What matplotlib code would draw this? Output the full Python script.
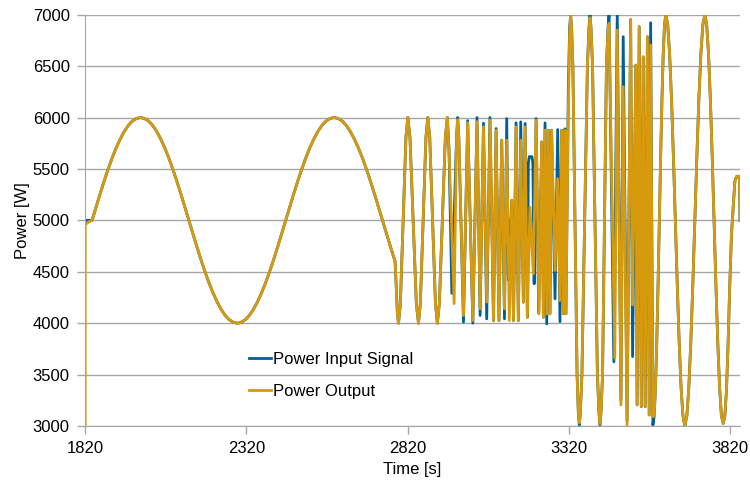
import matplotlib.pyplot as plt

# steady sine part, shared by both series (t in s, P in W), read every 12.5 s
sine_t = [1842 + 12.5 * k for k in range(76)] + [2781]
sine_v = [5000, 5131, 5259, 5383, 5500, 5609, 5707, 5793, 5866, 5924, 5966, 5991,
          6000, 5991, 5966, 5924, 5866, 5793, 5707, 5609, 5500, 5383, 5259, 5131,
          5000, 4869, 4741, 4617, 4500, 4391, 4293, 4207, 4134, 4076, 4034, 4009,
          4000, 4009, 4034, 4076, 4134, 4207, 4293, 4391, 4500, 4617, 4741, 4869,
          5000, 5131, 5259, 5383, 5500, 5609, 5707, 5793, 5866, 5924, 5966, 5991,
          6000, 5991, 5966, 5924, 5866, 5793, 5707, 5609, 5500, 5383, 5259, 5131,
          5000, 4869, 4741, 4617, 4600]

# first chirp cycles, shared
chirp_t = [2784, 2788, 2791.6, 2797.4, 2806, 2814.7, 2820.5, 2827.1, 2837, 2846.9,
           2853.5, 2859.3, 2868, 2876.7, 2882.5, 2888.4, 2897.2, 2906.1, 2912,
           2918.2, 2927.5, 2936.8, 2943, 2948]
chirp_v = [4400, 4100, 4000, 4190, 5000, 5810, 6000, 5810, 5000, 4190,
           4000, 4190, 5000, 5810, 6000, 5810, 5000, 4190, 4000,
           4190, 5000, 5810, 6000, 5700]

# fast part, input signal
in_fast_t = [2957, 2971.5, 2975, 2978.5, 2993, 3006, 3022, 3035, 3044.5, 3055, 3065,
             3075, 3086, 3094, 3103, 3111.5, 3120, 3127, 3132, 3142.5, 3148, 3156,
             3163, 3170.4, 3178.6, 3184, 3191, 3194, 3197, 3205, 3208, 3212, 3218,
             3226, 3235.4, 3240.6, 3245.7, 3251, 3256, 3261, 3266, 3276.7, 3285,
             3292, 3297, 3302.5, 3307.5, 3310.5]
in_fast_v = [4290, 5810, 6000, 5810, 4010, 5970, 4000, 6000, 4075, 5945, 4042,
             6000, 4026, 5893, 4026, 5780, 4042, 5990, 4420, 5195, 4026, 5948,
             4026, 5958, 4204, 5942, 4058, 5560, 5620, 5620, 5560, 4383, 5990,
             4100, 5763, 4058, 5948, 3993, 5877, 4091, 5877, 4237, 5883,
             4015, 5877, 4091, 5890, 4091]

# fast part, output
out_fast_t = [2964, 2971.5, 2975, 2978.5, 2993, 3006, 3022, 3035, 3044.5, 3055, 3065,
              3075.5, 3086, 3094, 3103, 3111.5, 3120, 3127, 3135, 3142.5, 3148, 3156,
              3163, 3170.4, 3178.6, 3184, 3191, 3199, 3209.6, 3218, 3227, 3235.4,
              3240.6, 3245.7, 3251, 3256, 3261, 3266, 3276.7, 3285, 3292, 3297,
              3302.5, 3307.5, 3310.5]
out_fast_v = [4190, 5810, 5980, 5810, 4075, 5950, 4026, 5960, 4140, 5910, 4205,
              5975, 4026, 5877, 4026, 5780, 4140, 5780, 4026, 5195, 4026, 5909,
              4026, 5780, 4204, 5909, 4058, 5130, 4480, 5974, 4091, 5763,
              4058, 5877, 4091, 5877, 4091, 5877, 4513, 5406, 4221, 5877,
              4091, 5877, 4091]

# wide swings 3000..7000, input signal
in_wide_t = [3318, 3322, 3325, 3328, 3332, 3338.5, 3345, 3349, 3352, 3355, 3360,
             3368.5, 3377, 3382, 3385, 3388, 3393, 3400.5, 3408, 3413, 3416, 3419,
             3424, 3430, 3436, 3441, 3444, 3459, 3469.5, 3481, 3488, 3500, 3511,
             3517, 3527, 3531, 3537.6, 3544, 3550, 3556, 3563, 3568.6, 3573, 3580]
in_wide_v = [6300, 6880, 7000, 6880, 6500, 5000, 3500, 3120, 3010, 3120, 3500,
             5000, 6500, 6880, 7000, 6880, 6500, 5000, 3500, 3120, 3010, 3120,
             3500, 5000, 6500, 6880, 7000, 3625, 7000, 3250, 6786, 3050, 6950,
             3675, 6510, 3205, 6883, 3188, 6590, 3188, 6786, 3107, 6922, 3010]

# wide swings, output
out_wide_t = [3318, 3322, 3325, 3328, 3332, 3338.5, 3345, 3349, 3352, 3355, 3360,
              3368.5, 3377, 3382, 3385, 3388, 3393, 3400.5, 3408, 3413, 3416, 3419,
              3424, 3430, 3436, 3441, 3444, 3462, 3469.5, 3481, 3488, 3500, 3511,
              3517, 3527, 3531, 3537.6, 3544, 3550, 3556, 3563, 3568.6, 3573, 3580]
out_wide_v = [6100, 6800, 6990, 6880, 6500, 5000, 3500, 3130, 3030, 3120, 3500,
              5000, 6500, 6860, 6970, 6880, 6500, 5000, 3500, 3130, 3020, 3120,
              3500, 5000, 6500, 6850, 6916, 3660, 6850, 3205, 6300, 3010, 6955,
              4177, 6510, 3205, 6883, 3188, 6590, 3188, 6786, 3107, 6705, 3090]

# last slow swings, shared
tail_t = [3584, 3588, 3592, 3596, 3600, 3604, 3608, 3612, 3616, 3620,
          3625.9, 3631.8, 3637.7, 3643.6, 3649.5, 3655.4, 3661.3, 3667.2, 3673.1, 3679,
          3685.2, 3691.4, 3697.6, 3703.8, 3710, 3716.2, 3722.4, 3728.6, 3734.8, 3741,
          3746.7, 3752.4, 3758.1, 3763.8, 3769.5, 3775.2, 3780.9, 3786.6, 3792.3, 3798,
          3803, 3808, 3813, 3818, 3823.6, 3829, 3834, 3839, 3845, 3848, 3850]
tail_v = [3098, 3382, 3824, 4382, 5000, 5618, 6176, 6618, 6902, 7000,
          6902, 6618, 6176, 5618, 5000, 4382, 3824, 3382, 3098, 3000,
          3098, 3382, 3824, 4382, 5000, 5618, 6176, 6618, 6902, 7000,
          6902, 6618, 6176, 5618, 5000, 4382, 3824, 3382, 3098, 3025,
          3100, 3350, 3800, 4350, 4870, 5130, 5380, 5425, 5430, 5400, 5000]

in_t = [1820] + sine_t + chirp_t + in_fast_t + in_wide_t + tail_t
in_v = [5000] + sine_v + chirp_v + in_fast_v + in_wide_v + tail_v
out_t = [1820, 1821, 1832] + sine_t + chirp_t + out_fast_t + out_wide_t + tail_t
out_v = [0, 4960, 4985] + sine_v + chirp_v + out_fast_v + out_wide_v + tail_v

plt.rcParams['font.family'] = ['Liberation Sans', 'DejaVu Sans']
grey = '#a6a6a6'

fig = plt.figure(figsize=(7.5, 4.84), dpi=100)
ax = fig.add_axes([0.1133, 0.1198, 0.8734, 0.8498])

ax.plot(in_t, in_v, color='#005f99', lw=2.0, label='Power Input Signal', solid_joinstyle='round')
ax.plot(out_t, out_v, color='#d69a0c', lw=2.0, label='Power Output', solid_joinstyle='round')

ax.set_xlim(1820, 3850)
ax.set_ylim(3000, 7000)
ax.set_xticks([1820, 2320, 2820, 3320, 3820])
ax.set_yticks(range(3000, 7001, 500))
ax.grid(axis='y', color=grey, lw=1)
ax.set_axisbelow(True)
for s in ['top', 'right']:
    ax.spines[s].set_visible(False)
for s in ['left', 'bottom']:
    ax.spines[s].set_color(grey)
ax.tick_params(colors=grey, length=6, width=1, labelsize=12, labelcolor='black', pad=5)
ax.set_xlabel('Time [s]', fontsize=12, labelpad=4)
ax.set_ylabel('Power [W]', fontsize=12, labelpad=2)

ax.legend(loc='lower left', bbox_to_anchor=(0.228, 0.03), frameon=False, fontsize=12,
          handlelength=1.3, handletextpad=0.1, labelspacing=1.0)

fig.savefig('out.png', dpi=100)
